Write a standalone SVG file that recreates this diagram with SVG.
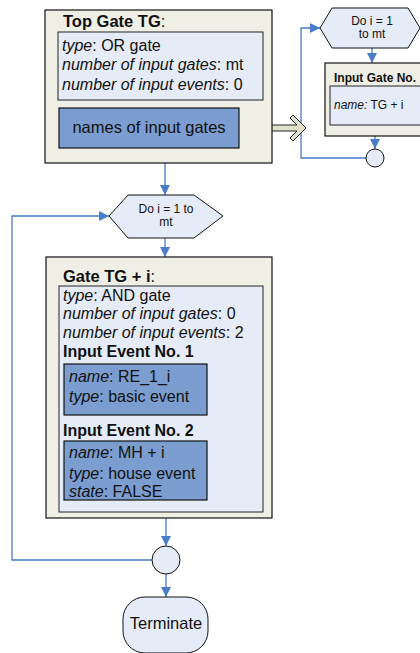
<svg xmlns="http://www.w3.org/2000/svg" width="420" height="653" viewBox="0 0 420 653">
<defs>
<marker id="ah" markerWidth="10" markerHeight="10" refX="10" refY="5" orient="auto" markerUnits="userSpaceOnUse">
<path d="M0,0 L10,5 L0,10 Z" fill="#4a7cc9"/>
</marker>
</defs>
<style>
text{font-family:"Liberation Sans",Arial,sans-serif;fill:#111;}
.outer{fill:#efefe6;stroke:#111;stroke-width:1.2;}
.inner{fill:#e6ecf7;stroke:#222;stroke-width:1;}
.blk{fill:#7b9dcf;stroke:#111;stroke-width:1.2;}
.lt{fill:#e6ecf7;stroke:#111;stroke-width:1;}
.conn{fill:none;stroke:#4a7cc9;stroke-width:1.3;}
.t16{font-size:16px;}
.t12{font-size:12px;}
.b{font-weight:bold;}
.i{font-style:italic;}
</style>
<rect width="420" height="653" fill="#ffffff"/>

<g id="connectors">
<line class="conn" x1="165" y1="163" x2="165" y2="195" marker-end="url(#ah)"/>
<line class="conn" x1="165" y1="238" x2="165" y2="257" marker-end="url(#ah)"/>
<line class="conn" x1="166" y1="518" x2="166" y2="546" marker-end="url(#ah)"/>
<line class="conn" x1="166" y1="574" x2="166" y2="597" marker-end="url(#ah)"/>
<polyline class="conn" points="152,560 12,560 12,216 109,216" marker-end="url(#ah)"/>
<line class="conn" x1="372" y1="48" x2="372" y2="63" marker-end="url(#ah)"/>
<line class="conn" x1="375" y1="136" x2="375" y2="149" marker-end="url(#ah)"/>
<polyline class="conn" points="366,158 301,158 301,28 320,28" marker-end="url(#ah)"/>
<polygon points="239,125 297,125 290,118 293,115 306,128 293,141 290,138 297,131 239,131" fill="#e0e2cc" stroke="#222" stroke-width="1"/>
</g>

<g id="top-gate">
<rect class="outer" x="45" y="10" width="227" height="153"/>
<text x="63" y="27" class="b" font-size="16.5">Top Gate TG<tspan font-weight="normal">:</tspan></text>
<rect class="inner" x="58" y="32" width="205" height="68"/>
<text x="62" y="51" class="t16"><tspan class="i">type</tspan>: OR gate</text>
<text x="62" y="70" class="t16"><tspan class="i">number of input gates</tspan>: mt</text>
<text x="62" y="90" class="t16"><tspan class="i">number of input events</tspan>: 0</text>
</g>

<g id="names-input-gates">
<rect class="blk" x="59" y="108" width="180" height="40"/>
<text x="149" y="133" font-size="16.5" text-anchor="middle">names of input gates</text>
</g>

<g id="loop-right">
<polygon class="lt" points="320,28 332,8 408,8 420,28 408,48 332,48"/>
<text x="372" y="25" class="t12" text-anchor="middle">Do i = 1</text>
<text x="372" y="38" class="t12" text-anchor="middle">to mt</text>
</g>

<g id="input-gate">
<rect class="outer" x="325" y="63" width="100" height="73"/>
<text x="334" y="82" class="t12 b">Input Gate No.</text>
<rect class="inner" x="330" y="86" width="95" height="39"/>
<text x="334" y="109" class="t12"><tspan class="i">name:</tspan> TG + i</text>
</g>

<g id="join-right">
<circle class="lt" cx="375" cy="158" r="9"/>
</g>

<g id="loop-main">
<polygon class="lt" points="109,216 128,195 194,195 223,216 194,238 128,238"/>
<text x="166" y="213" class="t12" text-anchor="middle">Do i = 1 to</text>
<text x="166" y="226" class="t12" text-anchor="middle">mt</text>
</g>

<g id="gate-tg-i">
<rect class="outer" x="46" y="257" width="226" height="261"/>
<text x="63" y="282" class="b" font-size="16.5">Gate TG + i<tspan font-weight="normal">:</tspan></text>
<rect class="inner" x="59" y="286" width="204" height="226"/>
<text x="63" y="301" class="t16"><tspan class="i">type</tspan>: AND gate</text>
<text x="63" y="319" class="t16"><tspan class="i">number of input gates</tspan>: 0</text>
<text x="63" y="338" class="t16"><tspan class="i">number of input events</tspan>: 2</text>
<text x="63" y="357" class="t16 b">Input Event No. 1</text>
<rect class="blk" x="64" y="364" width="143" height="51"/>
<text x="69" y="382" class="t16"><tspan class="i">name</tspan>: RE_1_i</text>
<text x="69" y="402" class="t16"><tspan class="i">type</tspan>: basic event</text>
<text x="63" y="436" class="t16 b">Input Event No. 2</text>
<rect class="blk" x="64" y="441" width="143" height="59"/>
<text x="69" y="458" class="t16"><tspan class="i">name</tspan>: MH + i</text>
<text x="69" y="479" class="t16"><tspan class="i">type</tspan>: house event</text>
<text x="69" y="497" class="t16"><tspan class="i">state</tspan>: FALSE</text>
</g>

<g id="join-main">
<circle class="lt" cx="166" cy="560" r="14"/>
</g>

<g id="terminate">
<rect class="lt" x="123" y="597" width="85" height="56" rx="22" ry="22"/>
<text x="166" y="629" font-size="16.5" text-anchor="middle">Terminate</text>
</g>
</svg>
